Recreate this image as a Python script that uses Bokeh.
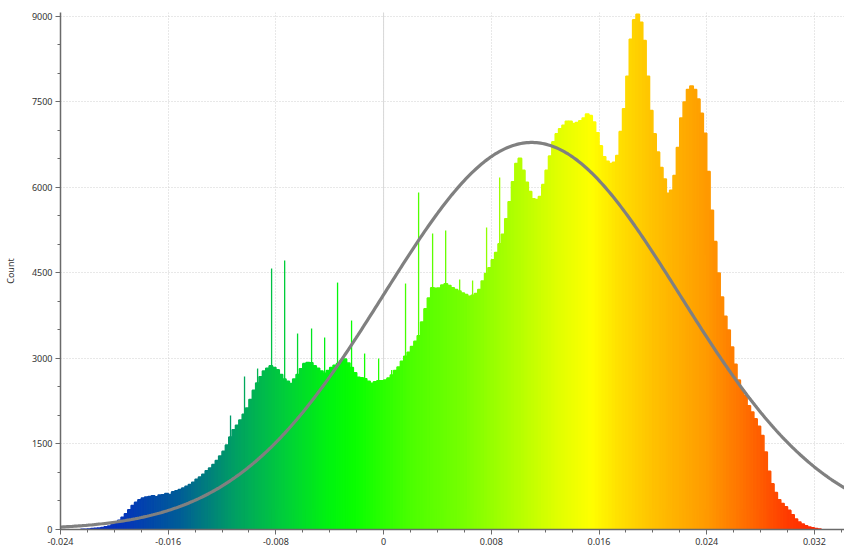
import numpy as np
from bokeh.plotting import figure
from bokeh.models import FixedTicker, CustomJSTickFormatter, Span, ColumnDataSource, Range1d
from bokeh.embed import file_html
from bokeh.resources import INLINE

# ---------------- data ----------------
bin_start = -0.0225
bin_width = 0.00025
counts = [
    2, 5, 10, 15, 20, 25, 35, 48, 60, 85,
    120, 160, 215, 275, 345, 420, 475, 520, 550, 570,
    580, 590, 575, 605, 610, 630, 615, 660, 680, 700,
    725, 760, 790, 830, 880, 920, 970, 1030, 1080, 1140,
    1210, 1290, 1370, 1480, 1620, 1750, 1830, 1920, 2020, 2130,
    2280, 2440, 2570, 2680, 2780, 2830, 2870, 2840, 2800, 2720,
    2640, 2600, 2560, 2640, 2720, 2820, 2910, 2930, 2925, 2870,
    2830, 2780, 2740, 2790, 2840, 2880, 2910, 2960, 2990, 2920,
    2840, 2750, 2670, 2660, 2645, 2600, 2565, 2590, 2610, 2610,
    2620, 2655, 2710, 2790, 2850, 2950, 3040, 3110, 3210, 3300,
    3400, 3640, 3870, 4060, 4240, 4230, 4235, 4290, 4310, 4280,
    4240, 4210, 4185, 4150, 4120, 4090, 4110, 4140, 4210, 4360,
    4490, 4590, 4730, 4860, 5010, 5180, 5450, 5750, 6100, 6420,
    6510, 6300, 6090, 5930, 5800, 5790, 5840, 6050, 6300, 6550,
    6800, 6940, 7030, 7090, 7160, 7160, 7120, 7140, 7170, 7220,
    7290, 7260, 7150, 6960, 6730, 6540, 6460, 6420, 6440, 6560,
    6980, 7380, 7950, 8600, 8940, 9040, 8900, 8580, 7950, 7350,
    6940, 6620, 6350, 6150, 5900, 5950, 6210, 6700, 7220, 7500,
    7720, 7780, 7720, 7550, 7300, 6950, 6280, 5600, 5050, 4500,
    4080, 3740, 3500, 3200, 2900, 2620, 2460, 2350, 2170, 2060,
    1940, 1810, 1650, 1360, 1020, 800, 650, 520, 455, 400,
    335, 260, 185, 130, 95, 65, 45, 28, 15, 7,
]

spike_x = [-0.01137, -0.01033, -0.00936, -0.00832, -0.00735, -0.00639,
           -0.00535, -0.00438, -0.00342, -0.00238, -0.00141, -0.00037,
           0.00060, 0.00163, 0.00260, 0.00364, 0.00461, 0.00565,
           0.00661, 0.00765, 0.00862]
spike_counts = [2000, 2683, 2824, 4578, 4718, 3438,
                3526, 3368, 4332, 3666, 3087, 2999,
                2800, 4315, 5911, 5192, 5245, 4385,
                4368, 5297, 6174]

fit_mean = 0.0110
fit_sigma = 0.0110
fit_peak = 6790

x_ticks = [-0.024, -0.016, -0.008, 0.0, 0.008, 0.016, 0.024, 0.032]
x_minor = [-0.024 + 0.002 * k for k in range(0, 30)]
y_ticks = [0, 1500, 3000, 4500, 6000, 7500, 9000]
y_minor = [500 * k for k in range(0, 19)]

# ---------------- colour ramp (style) ----------------
stops = [
    (-0.0225, (10, 40, 200)),
    (-0.0190, (5, 55, 185)),
    (-0.0150, (0, 95, 150)),
    (-0.0110, (0, 160, 100)),
    (-0.0070, (0, 210, 55)),
    (-0.0040, (0, 245, 15)),
    (-0.0020, (10, 255, 0)),
    (0.0020, (75, 255, 0)),
    (0.0060, (120, 255, 0)),
    (0.0100, (180, 255, 0)),
    (0.0130, (225, 255, 0)),
    (0.0155, (255, 255, 0)),
    (0.0175, (255, 225, 0)),
    (0.0200, (255, 195, 0)),
    (0.0240, (255, 155, 0)),
    (0.0270, (255, 110, 0)),
    (0.0300, (255, 60, 0)),
    (0.0330, (255, 30, 0)),
]
sx = np.array([s[0] for s in stops])
sc = np.array([s[1] for s in stops], dtype=float)


def ramp(xs):
    xs = np.asarray(xs, dtype=float)
    r = np.interp(xs, sx, sc[:, 0])
    g = np.interp(xs, sx, sc[:, 1])
    b = np.interp(xs, sx, sc[:, 2])
    return ["#%02x%02x%02x" % (int(a), int(c), int(d)) for a, c, d in zip(r, g, b)]


centers = [bin_start + (i + 0.5) * bin_width for i in range(len(counts))]
bar_src = ColumnDataSource(dict(x=centers, top=counts, color=ramp(centers)))
spike_src = ColumnDataSource(dict(x=spike_x, y0=[0] * len(spike_x), y1=spike_counts,
                                  color=ramp(spike_x)))

p = figure(frame_width=785, frame_height=517, output_backend="svg", toolbar_location=None,
           x_range=Range1d(-0.024, 0.03431), y_range=Range1d(0, 9070),
           min_border_left=59, min_border_top=12, min_border_right=0, min_border_bottom=0)
p.outline_line_color = None
p.background_fill_color = "white"
p.border_fill_color = "white"

# grid
for g in (p.xgrid, p.ygrid):
    g.grid_line_color = "#d0d0d0"
    g.grid_line_dash = "1 2"
    g.grid_line_width = 1
p.add_layout(Span(location=0, dimension="height", line_color="#d8d8d8", line_width=1, level="underlay"))

# histogram
p.segment(x0="x", y0="y0", x1="x", y1="y1", source=spike_src, line_color="color", line_width=1.3)
p.vbar(x="x", top="top", width=bin_width, source=bar_src, fill_color="color", line_color="color",
       line_width=1.6)

# normal fit
fx = np.linspace(-0.024, 0.03431, 400)
fy = fit_peak * np.exp(-0.5 * ((fx - fit_mean) / fit_sigma) ** 2)
p.line(fx, fy, line_color="#808080", line_width=3.2)

# axes
p.xaxis.ticker = FixedTicker(ticks=x_ticks, minor_ticks=x_minor)
p.yaxis.ticker = FixedTicker(ticks=y_ticks, minor_ticks=y_minor)
p.xaxis.formatter = CustomJSTickFormatter(code="return tick == 0 ? '0' : tick.toFixed(3);")
p.yaxis.formatter = CustomJSTickFormatter(code="return Math.round(tick).toString();")
p.yaxis.axis_label = "Count"
for ax in (p.xaxis[0], p.yaxis[0]):
    ax.axis_line_color = "#6a6a6a"
    ax.axis_line_width = 1.5
    ax.major_tick_line_color = "#6a6a6a"
    ax.minor_tick_line_color = "#6a6a6a"
    ax.major_tick_out = 5
    ax.major_tick_in = 0
    ax.minor_tick_out = 3
    ax.minor_tick_in = 0
    ax.major_label_text_font = "Noto Sans"
    ax.major_label_text_font_size = "9px"
    ax.major_label_text_color = "#333333"
    ax.major_label_standoff = 3
p.yaxis.axis_label_text_font = "Noto Sans"
p.yaxis.axis_label_text_font_size = "9px"
p.yaxis.axis_label_text_font_style = "normal"
p.yaxis.axis_label_text_color = "#333333"
p.yaxis.axis_label_standoff = 12

open("out.html", "w").write(file_html(p, INLINE))
